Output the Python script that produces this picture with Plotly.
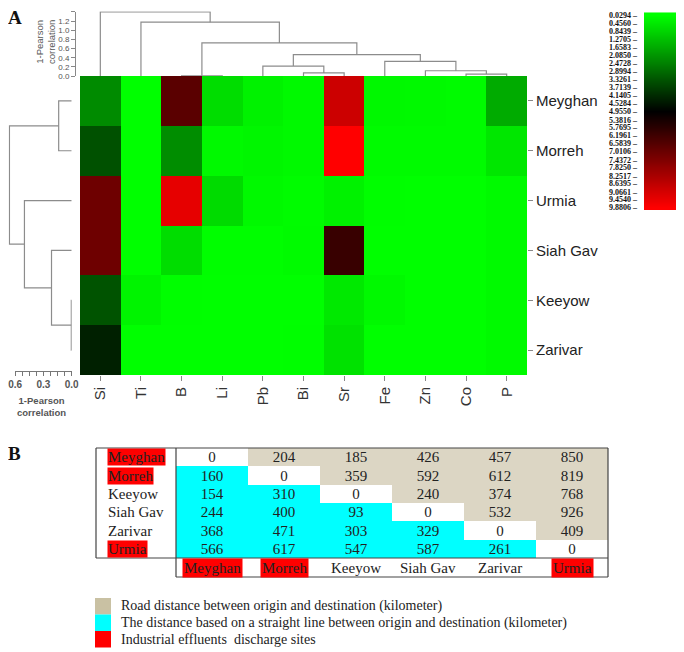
"""
Heavy-metal heatmap with dendrograms (A) and distance table between sites (B).
"""

import plotly.graph_objects as go

# ── Data ─────────────────────────────────────────────────────────

ELEMENTS = ["Si", "Ti", "B", "Li", "Pb", "Bi", "Sr", "Fe", "Zn", "Co", "P"]
SITES = ["Meyghan", "Morreh", "Urmia", "Siah Gav", "Keeyow", "Zarivar"]

MEYGHAN = [2.27, 0.03, 6.69, 0.68, 0.29, 0.14, 8.90, 0.17, 0.15, 0.10, 1.65]
MORREH = [3.40, 0.03, 2.23, 0.14, 0.20, 0.14, 9.88, 0.10, 0.10, 0.10, 0.50]
URMIA = [7.08, 0.03, 9.40, 0.72, 0.14, 0.08, 0.29, 0.05, 0.03, 0.03, 0.12]
SIAH_GAV = [7.08, 0.03, 0.68, 0.05, 0.05, 0.10, 6.04, 0.03, 0.03, 0.03, 0.12]
KEEYOW = [3.35, 0.25, 0.05, 0.03, 0.03, 0.03, 0.45, 0.14, 0.03, 0.03, 0.12]
ZARIVAR = [4.33, 0.03, 0.03, 0.03, 0.03, 0.05, 0.58, 0.03, 0.03, 0.03, 0.12]

# dendrogram merges: (left, right, height); ints refer to earlier merges
COL_MERGES = [
    ("B", "Li", 0.005),
    ("Bi", "Sr", 0.068),
    ("Pb", 1, 0.216),
    ("Co", "P", 0.041),
    ("Zn", 3, 0.115),
    ("Fe", 4, 0.318),
    (2, 5, 0.467),
    (0, 6, 0.723),
    ("Ti", 7, 1.176),
    ("Si", 8, 1.40),
]
ROW_MERGES = [
    ("Meyghan", "Morreh", 0.138),
    ("Keeyow", "Zarivar", 0.004),
    ("Siah Gav", 1, 0.214),
    ("Urmia", 2, 0.501),
    (0, 3, 0.660),
]

SCALE_TICKS = [0.0294, 0.4560, 0.8439, 1.2705, 1.6583, 2.0850, 2.4728, 2.8994,
               3.3261, 3.7139, 4.1405, 4.5284, 4.9550, 5.3816, 5.7695, 6.1961,
               6.5839, 7.0106, 7.4372, 7.8250, 8.2517, 8.6395, 9.0661, 9.4540,
               9.8806]

TABLE_SITES = ["Meyghan", "Morreh", "Keeyow", "Siah Gav", "Zarivar", "Urmia"]
INDUSTRIAL = ["Meyghan", "Morreh", "Urmia"]
# upper triangle = road distance, lower triangle = straight line (km)
DIST_MEYGHAN = [0, 204, 185, 426, 457, 850]
DIST_MORREH = [160, 0, 359, 592, 612, 819]
DIST_KEEYOW = [154, 310, 0, 240, 374, 768]
DIST_SIAH_GAV = [244, 400, 93, 0, 532, 926]
DIST_ZARIVAR = [368, 471, 303, 329, 0, 409]
DIST_URMIA = [566, 617, 547, 587, 261, 0]

LEGEND_LABELS = [
    "Road distance between origin and destination (kilometer)",
    "The distance based on a straight line between origin and destination (kilometer)",
    "Industrial effluents  discharge sites",
]

# ── Style ────────────────────────────────────────────────────────

# the page body keeps its default 8px margin, so the figure is shrunk by it
# and all positions below are given in window pixels
OFF = 8
W, H = 684 - OFF, 652 - OFF
SANS = "Arial, Liberation Sans, sans-serif"
SERIF = "Times New Roman, Liberation Serif, serif"
LINE = "#8c8c8c"
TAN = "#dcd6c4"
TAN_SWATCH = "#c9c1a3"
CYAN = "#00ffff"
RED = "#ff0000"
GRG = [[0.0, "#00ff00"], [0.5, "#000000"], [1.0, "#ff0000"]]


def px(x):
    return (x - OFF) / W


def py(y):
    return 1 - (y - OFF) / H


def dendro_segments(leaves, merges):
    pos = {name: i for i, name in enumerate(leaves)}
    height = {name: 0.0 for name in leaves}
    a_s, h_s = [], []
    for k, (a, b, h) in enumerate(merges):
        pa, pb = pos[a], pos[b]
        a_s += [pa, pa, pb, pb, None]
        h_s += [height[a], h, h, height[b], None]
        pos[k] = (pa + pb) / 2
        height[k] = h
    return a_s, h_s


fig = go.Figure()

# ── Heatmap ──────────────────────────────────────────────────────
z = [MEYGHAN, MORREH, URMIA, SIAH_GAV, KEEYOW, ZARIVAR]
fig.add_trace(go.Heatmap(
    x=list(range(len(ELEMENTS))), y=list(range(len(SITES))), z=z,
    colorscale=GRG, zmin=SCALE_TICKS[0], zmax=SCALE_TICKS[-1],
    showscale=False, hoverinfo="skip",
))

# top dendrogram (columns)
cx, ch = dendro_segments(ELEMENTS, COL_MERGES)
fig.add_trace(go.Scatter(x=cx, y=ch, xaxis="x", yaxis="y2", mode="lines",
                         line=dict(color=LINE, width=1.2), hoverinfo="skip",
                         showlegend=False))

# left dendrogram (rows)
rx, rh = dendro_segments(SITES, ROW_MERGES)
fig.add_trace(go.Scatter(x=rh, y=rx, xaxis="x3", yaxis="y", mode="lines",
                         line=dict(color=LINE, width=1.2), hoverinfo="skip",
                         showlegend=False))
fig.add_trace(go.Scatter(x=[], y=[], xaxis="x4", yaxis="y", showlegend=False))

# colour key
fig.add_trace(go.Heatmap(
    x=[0, 1], y=SCALE_TICKS, z=[[v, v] for v in SCALE_TICKS],
    xaxis="x5", yaxis="y5", colorscale=GRG,
    zmin=SCALE_TICKS[0], zmax=SCALE_TICKS[-1], zsmooth="best",
    showscale=False, hoverinfo="skip",
))

# ── Distance table ───────────────────────────────────────────────
dist = [DIST_MEYGHAN, DIST_MORREH, DIST_KEEYOW, DIST_SIAH_GAV, DIST_ZARIVAR, DIST_URMIA]
codes = [[0 if i == j else (1 if j > i else 2) for j in range(len(row))]
         for i, row in enumerate(dist)]
fig.add_trace(go.Heatmap(
    x=list(range(len(TABLE_SITES))), y=list(range(len(TABLE_SITES))), z=codes,
    text=[[str(v) for v in row] for row in dist], texttemplate="%{text}",
    textfont=dict(family=SERIF, size=15, color="#222"),
    xaxis="x6", yaxis="y6",
    colorscale=[[0, "#ffffff"], [0.5, TAN], [1, CYAN]], zmin=0, zmax=2,
    showscale=False, hoverinfo="skip",
))

annotations = []
for i, name in enumerate(TABLE_SITES):
    bg = RED if name in INDUSTRIAL else "rgba(0,0,0,0)"
    annotations.append(dict(
        text=name, xref="paper", x=px(107), xanchor="left", yref="y6", y=i,
        yanchor="middle", showarrow=False, bgcolor=bg, borderpad=0,
        font=dict(family=SERIF, size=15, color="#222")))
    annotations.append(dict(
        text=name, xref="x6", x=i, xanchor="center", yref="paper", y=py(568),
        yanchor="middle", showarrow=False, bgcolor=bg, borderpad=1,
        font=dict(family=SERIF, size=15, color="#222")))

# legend
swatches = [TAN_SWATCH, CYAN, RED]
shapes = []
for k, (label, col) in enumerate(zip(LEGEND_LABELS, swatches)):
    top = 598 + k * 16.5
    shapes.append(dict(type="rect", xref="paper", yref="paper",
                       x0=px(95), x1=px(111), y0=py(top), y1=py(top + 16.5),
                       fillcolor=col, line=dict(width=0)))
    annotations.append(dict(
        text=label, xref="paper", x=px(119), xanchor="left",
        yref="paper", y=py(top + 8.25), yanchor="middle", showarrow=False,
        font=dict(family=SERIF, size=14, color="#222")))

# table borders
for x0, y0, x1, y1 in [(96, 448, 608, 448), (96, 448, 96, 558), (96, 558, 608, 558),
                       (608, 448, 608, 577), (176, 448, 176, 577), (176, 577, 608, 577)]:
    shapes.append(dict(type="line", xref="paper", yref="paper",
                       x0=px(x0), y0=py(y0), x1=px(x1), y1=py(y1),
                       line=dict(color="#444", width=1.2)))

# panel letters and axis titles
centered = dict(xref="paper", yref="paper", xanchor="center", yanchor="middle",
                showarrow=False)
annotations += [
    dict(text="<b>A</b>", x=px(15), y=py(18),
         font=dict(family=SERIF, size=19, color="#111"), **centered),
    dict(text="<b>B</b>", x=px(14), y=py(453),
         font=dict(family=SERIF, size=19, color="#111"), **centered),
    dict(text="1-Pearson<br>correlation", x=px(45), y=py(42), textangle=-90,
         font=dict(family=SANS, size=9.5, color="#555"), **centered),
    dict(text="1-Pearson<br>correlation", x=px(41), y=py(406),
         font=dict(family=SANS, size=9.5, color="#555", weight=700), **centered),
]

hidden = dict(visible=False, showgrid=False, zeroline=False, automargin=False)

fig.update_layout(
    width=W, height=H,
    margin=dict(l=0, r=0, t=0, b=0, autoexpand=False),
    paper_bgcolor="white", plot_bgcolor="rgba(0,0,0,0)",
    showlegend=False,
    xaxis=dict(domain=[px(80), px(527)], range=[-0.5, 10.5], anchor="y",
               tickvals=list(range(len(ELEMENTS))), ticktext=ELEMENTS,
               tickangle=-90, ticks="outside", ticklen=5, tickcolor="#888",
               tickfont=dict(family=SANS, size=15, color="#333"),
               showgrid=False, zeroline=False, showline=False, automargin=False),
    yaxis=dict(domain=[py(375), py(76)], range=[5.5, -0.5], anchor="x",
               side="right", tickvals=list(range(len(SITES))), ticktext=SITES,
               ticks="outside", ticklen=5, tickcolor="#888",
               tickfont=dict(family=SANS, size=15, color="#222"),
               showgrid=False, zeroline=False, showline=False, automargin=False),
    yaxis2=dict(domain=[py(76), py(11.5)], range=[0, 1.41], anchor="free",
                position=px(75), dtick=0.2, tick0=0, tickformat=".1f",
                ticks="outside", ticklen=4, tickcolor="#888",
                showline=True, linecolor="#888", linewidth=1,
                tickfont=dict(family=SANS, size=8, color="#555"),
                showgrid=False, zeroline=False, automargin=False),
    xaxis3=dict(domain=[px(8.5), px(71.7)], range=[0.67, 0], anchor="y", **hidden),
    xaxis4=dict(domain=[px(15.1), px(71.7)], range=[0.6, 0], anchor="free",
                position=py(371), tickvals=[0.6, 0.3, 0.0],
                ticktext=["0.6", "0.3", "0.0"], ticks="outside", ticklen=4,
                tickcolor="#777", showline=True, linecolor="#777",
                minor=dict(dtick=0.075, tick0=0, ticks="outside", ticklen=4,
                           tickcolor="#777"),
                tickfont=dict(family=SANS, size=10, color="#555", weight=700),
                showgrid=False, zeroline=False, automargin=False),
    xaxis5=dict(domain=[px(644), px(683)], range=[-0.5, 1.5], anchor="y5", **hidden),
    yaxis5=dict(domain=[py(210), py(12.3)], range=[10.0, -0.11], anchor="x5",
                tickvals=SCALE_TICKS,
                ticktext=[f"{v:.4f} \u2013" for v in SCALE_TICKS],
                ticks="", ticklabelstandoff=6,
                tickfont=dict(family=SERIF, size=8, color="#111", weight=700),
                showgrid=False, zeroline=False, showline=False, automargin=False),
    xaxis6=dict(domain=[px(176), px(608)], range=[-0.5, 5.5], anchor="y6", **hidden),
    yaxis6=dict(domain=[py(558), py(448)], range=[5.5, -0.5], anchor="x6", **hidden),
    shapes=shapes,
    annotations=annotations,
)

fig.write_html("out.html")
